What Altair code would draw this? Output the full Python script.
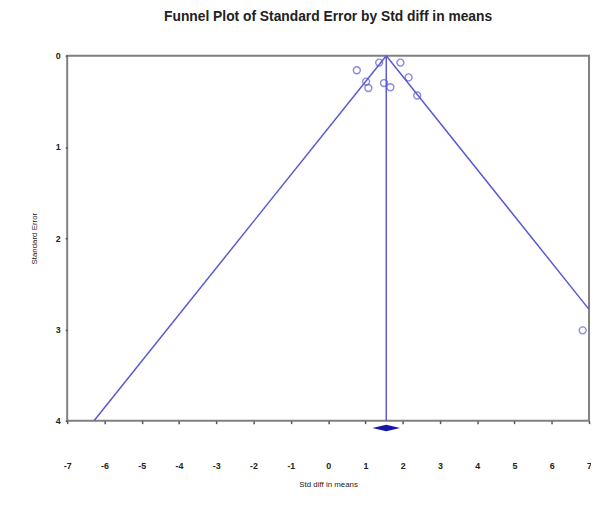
import altair as alt
import pandas as pd

# Study effects (Std diff in means) and their standard errors
std_diff = [0.77, 1.37, 1.94, 1.02, 1.08, 1.50, 1.67, 2.16, 2.39, 6.83]
std_err = [0.16, 0.076, 0.076, 0.284, 0.354, 0.30, 0.346, 0.238, 0.436, 3.01]

# Summary (pooled) effect and its confidence diamond
pooled = 1.56
pooled_low = 1.20
pooled_high = 1.94
diamond_se = 4.08

# Funnel boundary lines (end points)
funnel_left_x = [1.56, -6.28]
funnel_left_y = [0.0, 4.0]
funnel_right_x = [1.56, 7.0]
funnel_right_y = [0.0, 2.78]

x_ticks = list(range(-7, 8))
y_ticks = [0, 1, 2, 3, 4]

LINE = "#5a5ad2"
FONT = "Liberation Sans"

pts = pd.DataFrame({"x": std_diff, "se": std_err})
funnel = pd.DataFrame({
    "x": funnel_left_x + funnel_right_x,
    "se": funnel_left_y + funnel_right_y,
    "side": ["left", "left", "right", "right"],
    "order": [0, 1, 0, 1],
})
vline = pd.DataFrame({"x": [pooled], "se": [0.0], "se2": [4.0]})
diamond = pd.DataFrame({"x": [pooled], "se": [diamond_se]})

xscale = alt.Scale(domain=[-7, 7], nice=False, zero=False)
yscale = alt.Scale(domain=[0, 4], reverse=True, nice=False, zero=False)

xaxis = alt.Axis(
    values=x_ticks, tickCount=15, title="Std diff in means", domain=False, grid=False,
    tickSize=3, tickColor="#555555", tickWidth=1.5,
    labelExpr="'' + datum.value", labelOverlap=False,
    labelPadding=38, labelFont=FONT, labelFontSize=9, labelFontWeight="bold",
    labelColor="#222222", titleFont=FONT, titleFontSize=8, titleFontWeight="normal",
    titleColor="#222222", titlePadding=11, labelFlush=False,
)
yaxis = alt.Axis(
    values=y_ticks, title="Standard Error", domain=False, grid=False,
    tickSize=2, tickColor="#555555", tickWidth=1.5,
    labelExpr="'' + datum.value", labelOverlap=False,
    labelPadding=5, labelFont=FONT, labelFontSize=9, labelFontWeight="bold",
    labelColor="#222222", titleFont=FONT, titleFontSize=8, titleFontWeight="normal",
    titleColor="#222222", titlePadding=17, labelFlush=False,
)

lines = alt.Chart(funnel).mark_line(color=LINE, strokeWidth=1.5).encode(
    detail="side:N",
    order="order:Q",
)

rule = alt.Chart(vline).mark_rule(color=LINE, strokeWidth=1.5).encode(
    y2="se2:Q",
)

circles = alt.Chart(pts).mark_point(
    shape="circle", filled=False, color=LINE, size=50, strokeWidth=1.4
)

dia = alt.Chart(diamond).mark_point(
    shape="M-1,0L0,-0.24L1,0L0,0.24Z", filled=True, color="#1515b0",
    size=(pooled_high - pooled_low) ** 2 * 37.8 ** 2, opacity=1,
)

chart = alt.layer(lines, rule, circles, dia).encode(
    x=alt.X("x:Q", scale=xscale, axis=xaxis),
    y=alt.Y("se:Q", scale=yscale, axis=yaxis),
).properties(
    width=529,
    height=370,
    title=alt.TitleParams(
        "Funnel Plot of Standard Error by Std diff in means",
        font=FONT, fontSize=14, fontWeight="bold", color="#222222",
        anchor="middle", offset=28,
    ),
    autosize=alt.AutoSizeParams(type="none"),
    padding={"left": 60, "top": 45, "right": 2, "bottom": 72},
).configure(
    background="white"
).configure_view(
    stroke="#808080", strokeWidth=2
)

chart.save("out.html", embed_options={"renderer": "svg", "actions": False})
